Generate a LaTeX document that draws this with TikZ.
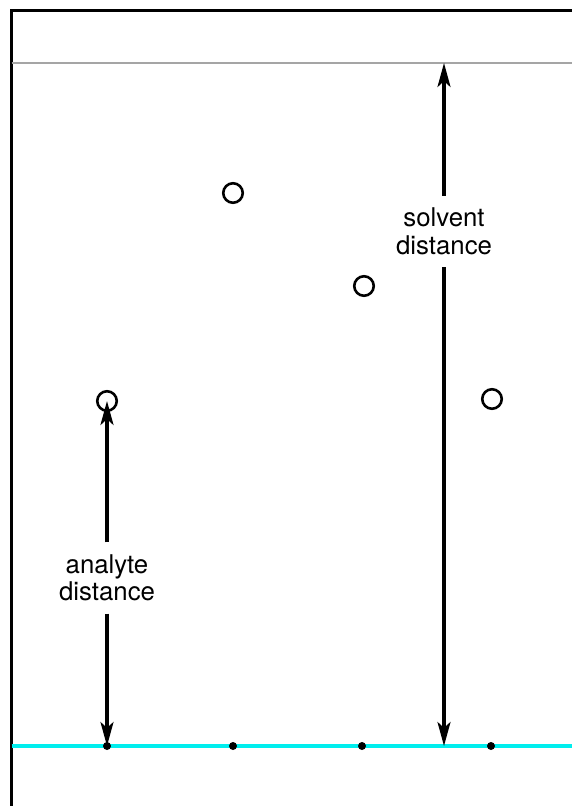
\documentclass[tikz,border=0pt]{standalone}
\usepackage{fontspec}
\setmainfont{TeX Gyre Heros}
\usetikzlibrary{arrows.meta}
\begin{document}
\begin{tikzpicture}[x=1pt,y=-1pt,
  spot/.style={circle,draw=black,line width=2.6pt,minimum size=19.5pt,inner sep=0pt},
  origin/.style={circle,fill=black,minimum size=8pt,inner sep=0pt},
  measure/.style={line width=3.2pt,-{Stealth[length=24pt,width=13pt,inset=6pt]}},
  caption/.style={align=center,font=\fontsize{25.8}{27.5}\selectfont,inner xsep=2pt,inner ysep=12pt}]
  \useasboundingbox (0,0) rectangle (572,806);
  % plate edges
  \draw[line width=3.2pt] (11.5,806) -- (11.5,10.7) -- (572,10.7);
  % solvent front
  \draw[line width=2.8pt,color={rgb,255:red,165;green,165;blue,165}] (11.5,63) -- (572,63);
  % baseline
  \draw[line width=3.2pt,color={rgb,255:red,0;green,238;blue,238}] (11.5,746) -- (572,746);
  % spotting points
  \node[origin] (o1) at (107,746) {};
  \node[origin] (o2) at (233,746) {};
  \node[origin] (o3) at (362,746) {};
  \node[origin] (o4) at (491,746) {};
  \coordinate (sb) at (444,746);
  \coordinate (sf) at (444,63);
  % developed spots
  \node[spot] (s1) at (107,401) {};
  \node[spot] (s2) at (233,193) {};
  \node[spot] (s3) at (364,286) {};
  \node[spot] (s4) at (492,399) {};
  % distance labels
  \node[caption] (la) at (107,578) {analyte\\distance};
  \node[caption] (ls) at (444,231.5) {solvent\\distance};
  % measuring arrows
  \draw[measure] (la.north) -- (s1.center);
  \draw[measure] (la.south) -- (o1.center);
  \draw[measure] (ls.north) -- (sf);
  \draw[measure] (ls.south) -- (sb);
\end{tikzpicture}
\end{document}
